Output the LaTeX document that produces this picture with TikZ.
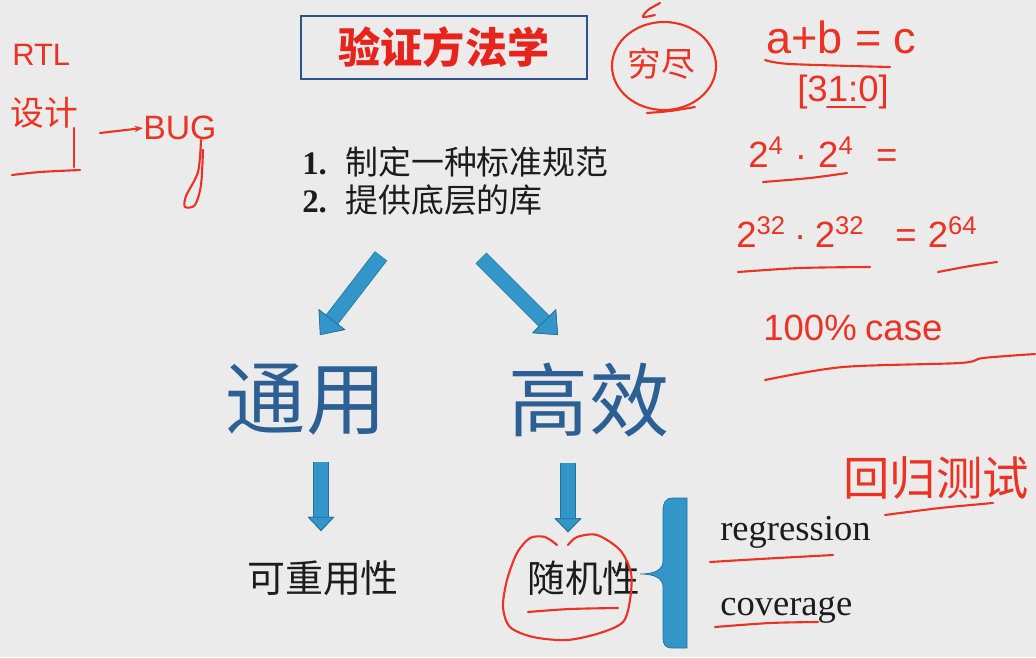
\documentclass[tikz,border=0pt]{standalone}
\usepackage{fontspec}
\setmainfont{Liberation Serif}
\newfontfamily\cjk{Noto Sans CJK SC}
\newfontfamily\hand{Liberation Sans}
\usetikzlibrary{arrows.meta, positioning}

\definecolor{slidebg}{RGB}{235,235,235}
\definecolor{arrowblue}{RGB}{50,150,200}
\definecolor{arrowedge}{RGB}{38,112,155}
\definecolor{bigblue}{RGB}{44,95,148}
\definecolor{boxblue}{RGB}{47,82,143}
\definecolor{titlered}{RGB}{232,35,27}
\definecolor{inkred}{RGB}{236,50,35}
\definecolor{bodytext}{RGB}{28,28,28}

\newcommand{\fsz}[1]{\fontsize{#1}{#1}\selectfont}

\begin{document}
\begin{tikzpicture}[
    x=0.025cm, y=-0.025cm,
    every node/.style={inner sep=0pt},
    bigarrow/.style={draw=arrowblue, line width=10pt,
        preaction={draw=arrowedge, line width=11pt},
        -{Triangle[length=14pt, width=24pt, fill=arrowblue, color=arrowedge, line width=0.5pt]}},
    downarrow/.style={draw=arrowblue, line width=10pt,
        preaction={draw=arrowedge, line width=11pt},
        -{Triangle[length=10pt, width=19pt, fill=arrowblue, color=arrowedge, line width=0.5pt]}},
    hw/.style={text=inkred},
    ink/.style={draw=inkred, line width=1.5pt, line cap=round, line join=round}
]
\useasboundingbox (0,0) rectangle (1036,657);
\fill[slidebg] (0,0) rectangle (1036,657);

% slide
\node[font=\cjk\bfseries\fsz{30pt}, text=titlered, draw=boxblue, line width=1.2pt,
      minimum width=7.15cm, minimum height=1.575cm] (title) at (444,47.5) {验证方法学};
\node[anchor=west, font=\fsz{23.4pt}, text=bodytext] (step1) at (302,162)
    {\makebox[30.6pt][l]{\bfseries 1.}{\cjk 制定一种标准规范}};
\node[anchor=west, font=\fsz{23.4pt}, text=bodytext] (step2) at (302,200)
    {\makebox[30.6pt][l]{\bfseries 2.}{\cjk 提供底层的库}};

\node[font=\cjk\fsz{57pt}, text=bigblue] (tongyong) at (306,400) {通用};
\node[font=\cjk\fsz{57pt}, text=bigblue] (gaoxiao) at (589,400) {高效};
\node[font=\cjk\fsz{27pt}, text=bodytext] (reuse) at (323,578) {可重用性};
\node[font=\cjk\fsz{26.7pt}, text=bodytext] (random) at (584,578) {随机性};
\node[anchor=base west, font=\fsz{26pt}, text=bodytext] (regression) at (720,540) {regression};
\node[anchor=base west, font=\fsz{26pt}, text=bodytext] (coverage) at (720,615) {coverage};

\coordinate (lt) at (381,256);
\coordinate (lh) at (320,335);
\coordinate (rt) at (481,258);
\coordinate (rh) at (558,335);
\draw[bigarrow] (lt) -- (lh);
\draw[bigarrow] (rt) -- (rh);
\draw[downarrow] (tongyong.south -| reuse.north) ++(-2,26) -- ++(0,69);
\draw[downarrow] (gaoxiao.south -| random.north) ++(-16,26) -- ++(0,69);

% brace
\draw[fill=arrowblue, draw=arrowedge, line width=0.5pt]
    (687,498) -- (673,498) .. controls (665,498) and (663,503) .. (663,511)
    -- (663,561) .. controls (663,569) and (656,574) .. (640,574)
    .. controls (656,574) and (663,579) .. (663,587)
    -- (663,637) .. controls (663,645) and (665,648) .. (673,648)
    -- (687,648) -- cycle;

% ink notes
\node[hw, anchor=west, font=\hand\fsz{22pt}] (rtl) at (12,55) {RTL};
\node[hw, anchor=west, font=\cjk\fsz{24pt}] (sheji) at (10,113) {设计};
\node[hw, anchor=west, font=\hand\fsz{24pt}] (bug) at (143,128) {BUG};
\draw[ink, -{Stealth[length=6pt]}] (100,133) -- (bug.west);
\draw[ink] (74,128) -- (74,167);
\draw[ink] plot[smooth] coordinates {(12,175) (40,172) (80,170)};
\draw[ink] plot[smooth] coordinates {(201,140) (198,172) (186,196) (185,207) (195,205) (201,185) (203,150)};

\node[hw, font=\cjk\fsz{24pt}] (qiongjin) at (661,64) {穷尽};
\draw[ink] (664,66) ellipse [x radius=52, y radius=44];
\draw[ink] plot[smooth] coordinates {(660,3) (648,10) (643,17) (655,15)};
\draw[ink] plot[smooth] coordinates {(647,113) (670,111) (695,107)};

\node[hw, anchor=west, font=\hand\fsz{32pt}] (sum) at (766,37) {a+b = c};
\draw[ink] plot[smooth] coordinates {(765,60) (790,64) (890,67)};
\node[hw, anchor=west, font=\hand\fsz{26pt}] (width) at (797,92) {[31:0]};
\draw[ink] (827,107) -- (865,107);
\node[hw, anchor=west, font=\hand\fsz{26pt}] (small) at (748,152)
    {2\textsuperscript{4}\hspace{8pt}·\hspace{8pt}2\textsuperscript{4}\hspace{16pt}=};
\draw[ink] plot[smooth] coordinates {(763,182) (810,178) (847,173)};
\node[hw, anchor=west, font=\hand\fsz{26pt}] (big) at (736,232)
    {2\textsuperscript{32}\hspace{6pt}·\hspace{6pt}2\textsuperscript{32}\hspace{22pt}=\hspace{8pt}2\textsuperscript{64}};
\draw[ink] plot[smooth] coordinates {(738,272) (800,268) (870,267)};
\draw[ink] plot[smooth] coordinates {(938,272) (970,266) (997,262)};
\node[hw, anchor=west, font=\hand\fsz{26pt}] (cases) at (763,328) {100\%\hspace{6pt}case};
\draw[ink] plot[smooth] coordinates {(765,380) (843,367) (960,363) (983,358) (1035,354)};

\node[hw, anchor=west, font=\cjk\fsz{33pt}] (huigui) at (843,478) {回归测试};
\draw[ink] plot[smooth] coordinates {(885,515) (940,508) (993,503)};

\draw[ink] plot[smooth] coordinates {(557,545) (545,537) (530,538) (517,553) (507,580)
    (503,607) (510,627) (533,637) (567,640) (600,633) (623,622) (630,600) (631,573)
    (620,550) (597,535) (577,537) (568,545)};
\draw[ink] plot[smooth] coordinates {(528,612) (570,609) (618,608)};
\draw[ink] plot[smooth] coordinates {(710,562) (760,559) (833,555)};
\draw[ink] plot[smooth] coordinates {(715,627) (770,623) (818,622)};
\end{tikzpicture}
\end{document}
